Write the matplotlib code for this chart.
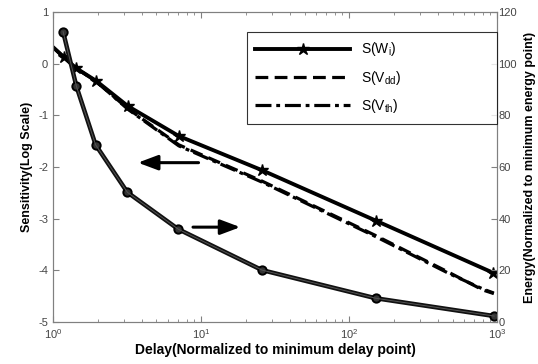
import matplotlib
matplotlib.use("Agg")
import matplotlib.pyplot as plt
from matplotlib.lines import Line2D
import numpy as np

plt.rcParams['font.family'] = ['Liberation Sans', 'DejaVu Sans']
plt.rcParams['mathtext.fontset'] = 'custom'
plt.rcParams['mathtext.rm'] = 'Liberation Sans'
plt.rcParams['mathtext.it'] = 'Liberation Sans'
plt.rcParams['axes.unicode_minus'] = False

# sensitivity curves (left axis, log scale)
delay_w = [1.0, 1.19, 1.42, 1.95, 3.2, 7.07, 25.7, 152, 944]
sens_w = [0.32, 0.12, -0.08, -0.33, -0.82, -1.40, -2.06, -3.04, -4.05]

delay_v = [1.0, 1.19, 1.42, 1.95, 3.2, 7.07, 25.7, 152, 480, 800, 950]
sens_vdd = [0.32, 0.12, -0.08, -0.34, -0.87, -1.57, -2.27, -3.33, -4.05, -4.38, -4.45]
sens_vth = [0.32, 0.12, -0.08, -0.34, -0.88, -1.59, -2.29, -3.35, -4.07, -4.36, -4.44]

# energy curve (right axis)
delay_e = [1.17, 1.44, 1.94, 3.18, 7.03, 25.8, 151, 955]
energy = [112.4, 91.2, 68.6, 50.2, 35.9, 20.1, 9.2, 2.3]

labels = ['S(W$_\\mathregular{i}$)', 'S(V$_\\mathregular{dd}$)', 'S(V$_\\mathregular{th}$)']

gray = '#808080'
fig = plt.figure(figsize=(5.38, 3.64), dpi=100)
ax = fig.add_axes([0.0985, 0.1154, 0.8255, 0.8516])

ax.plot(delay_w, sens_w, color='black', lw=2.8, marker='*', ms=9,
        markevery=list(range(1, len(delay_w))))
ax.plot(delay_v, sens_vdd, color='black', lw=2.3, ls=(0, (4, 2)))
ax.plot(delay_v, sens_vth, color='black', lw=2.3, ls=(0, (5, 1.5, 1.2, 1.5)))

ax.set_xscale('log')
ax.set_xlim(1, 1000)
ax.set_ylim(-5, 1)
ax.set_yticks(np.arange(-5, 2, 1))
ax.tick_params(which='both', direction='in', top=True, labelsize=8, labelcolor='#444444', color=gray)
ax.tick_params(which='major', length=4)
ax.tick_params(which='minor', length=2)
for s in ax.spines.values():
    s.set_color(gray)

ax.set_xlabel('Delay(Normalized to minimum delay point)', fontsize=10, fontweight='bold', labelpad=2)
ax.set_ylabel('Sensitivity(Log Scale)', fontsize=9, fontweight='bold', labelpad=4)

ax2 = ax.twinx()
ax2.plot(delay_e, energy, color='#111111', lw=3.2, marker='o', ms=6, mfc='#333333', mec='black', mew=1.4)
ax2.plot(delay_e, energy, color='#555555', lw=0.7)
ax2.set_ylim(0, 120)
ax2.set_yticks(np.arange(0, 121, 20))
ax2.tick_params(direction='in', length=4, labelsize=8, labelcolor='#444444', color=gray, pad=1)
for s in ax2.spines.values():
    s.set_color(gray)
ax2.set_ylabel('Energy(Normalized to minimum energy point)', fontsize=9, fontweight='bold', labelpad=5)

handles = [
    Line2D([], [], color='black', lw=2.8, marker='*', ms=9),
    Line2D([], [], color='black', lw=2.3, ls=(0, (4, 2))),
    Line2D([], [], color='black', lw=2.3, ls=(0, (5, 1.5, 1.2, 1.5))),
]
leg = ax2.legend(handles, labels, loc='upper left', bbox_to_anchor=(0.437, 0.677, 0.563, 0.258),
                 mode='expand', fontsize=10, handlelength=6.8, labelspacing=0.75, frameon=True,
                 numpoints=1, fancybox=False, edgecolor='black', borderaxespad=0, borderpad=0.6)
leg.get_frame().set_linewidth(0.8)

# arrows pointing to each axis
ax.annotate('', xy=(0.185, 0.514), xytext=(0.334, 0.514), xycoords='axes fraction',
            arrowprops=dict(arrowstyle='-|>,head_length=1.2,head_width=0.45', color='black', lw=2.2))
ax.annotate('', xy=(0.428, 0.306), xytext=(0.309, 0.306), xycoords='axes fraction',
            arrowprops=dict(arrowstyle='-|>,head_length=1.2,head_width=0.45', color='black', lw=2.2))

fig.savefig('out.png', dpi=100)
